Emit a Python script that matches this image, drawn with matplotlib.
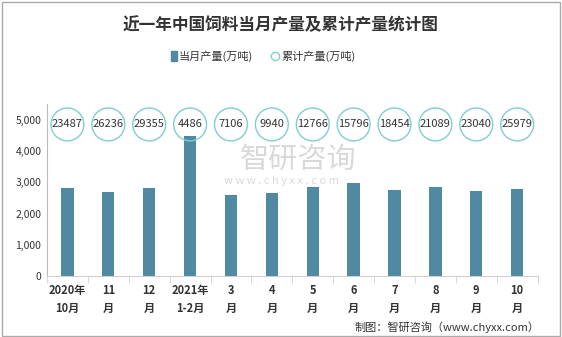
import matplotlib.pyplot as plt
from matplotlib.patches import Rectangle
from matplotlib.lines import Line2D

plt.rcParams['font.family'] = ['Noto Sans CJK SC', 'DejaVu Sans']

# 数据
months = ['2020年\n10月', '11\n月', '12\n月', '2021年\n1-2月', '3\n月', '4\n月',
          '5\n月', '6\n月', '7\n月', '8\n月', '9\n月', '10\n月']
monthly = [2812, 2697, 2812, 4486, 2580, 2643, 2845, 2962, 2760, 2845, 2730, 2793]
cumulative = [23487, 26236, 29355, 4486, 7106, 9940, 12766, 15796, 18454, 21089, 23040, 25979]

bar_color = '#4f8aa2'
circle_color = '#7fcfcc'
circle_y = 4850

fig = plt.figure(figsize=(5.62, 3.37), dpi=100)
ax = fig.add_axes([0.0836, 0.181, 0.873, 0.510])

x = list(range(len(months)))
ax.bar(x, monthly, width=0.3, color=bar_color, zorder=2)
ax.scatter(x, [circle_y] * len(x), s=560, facecolors='none',
           edgecolors=circle_color, linewidths=1, zorder=3, clip_on=False)
for xi, v in zip(x, cumulative):
    ax.text(xi, circle_y, str(v), ha='center', va='center', fontsize=8,
            color='#333333', zorder=4)

ax.set_xlim(-0.5, len(months) - 0.5)
ax.set_ylim(0, 5500)
ax.set_yticks(range(0, 5001, 1000))
ax.set_yticklabels([f'{v:,}' for v in range(0, 5001, 1000)], fontsize=7.5, color='#333333')
ax.set_xticks(x)
ax.set_xticklabels(months, fontsize=8, fontweight='bold', color='#333333', linespacing=1.5)
ax.set_xticks([i + 0.5 for i in range(-1, len(months))], minor=True)
ax.tick_params(axis='x', which='major', length=0, pad=6)
ax.tick_params(axis='x', which='minor', length=5, color='#d0d0d0')
ax.tick_params(axis='y', length=0, pad=4)
for s in ['top', 'right']:
    ax.spines[s].set_visible(False)
ax.spines['left'].set_color('#bbbbbb')
ax.spines['bottom'].set_color('#d0d0d0')

# 标题与图例
fig.text(0.5, 0.925, '近一年中国饲料当月产量及累计产量统计图', ha='center', va='center',
         fontsize=12, fontweight='bold', color='#333333')
fig.patches.append(Rectangle((0.3045, 0.819), 0.0107, 0.03, transform=fig.transFigure,
                             color=bar_color))
fig.text(0.318, 0.832, '当月产量(万吨)', ha='left', va='center', fontsize=8, color='#333333')
fig.lines.append(Line2D([0.489], [0.834], transform=fig.transFigure, marker='o',
                        markersize=6, markerfacecolor='none',
                        markeredgecolor=circle_color, linestyle='none'))
fig.text(0.5, 0.832, '累计产量(万吨)', ha='left', va='center', fontsize=8, color='#333333')

# 水印
fig.text(0.53, 0.525, '智研咨询', ha='center', va='center', fontsize=21,
         color='#d0d0d0', alpha=0.8)
fig.text(0.5, 0.463, 'w w w . c h y x x . c o m', ha='center', va='center', fontsize=8,
         color='#d0d0d0', alpha=0.8)

fig.text(0.96, 0.03, '制图：智研咨询（www.chyxx.com）', ha='right', va='center',
         fontsize=8, color='#333333')

fig.patches.append(Rectangle((0.003, 0.004), 0.994, 0.99, transform=fig.transFigure,
                             fill=False, edgecolor='#aaaaaa', linewidth=1))

fig.savefig('out.png', dpi=100)
